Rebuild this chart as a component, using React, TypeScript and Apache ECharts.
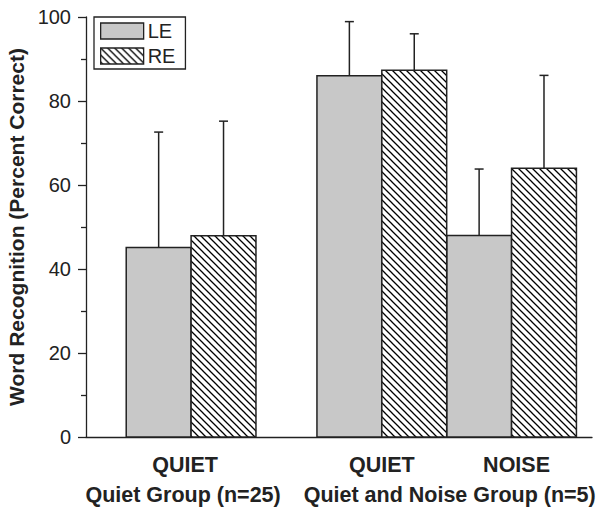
import React, { useEffect, useRef } from "react";
import * as echarts from "echarts";

// ---- data ----
const categories = ["QUIET", "QUIET", "NOISE"];
const groupNames = ["Quiet Group (n=25)", "Quiet and Noise Group (n=5)"];
const groupOfCategory = [0, 1, 1];
const leMeans = [45.1, 86.0, 48.0];
const leErr = [27.5, 12.9, 15.8];
const reMeans = [47.9, 87.3, 64.0];
const reErr = [27.3, 8.7, 22.1];
const yTicks = [0, 20, 40, 60, 80, 100];

// ---- layout (positions of category centres on the x scale, in bar widths) ----
const catX = [1.62, 4.56, 6.56];
const X_MAX = 7.8;
const catLabelDx = [-6, 0, 5];
const groupLabelDx = [-8, 3];

const FONT = "'Liberation Sans', Arial, Helvetica, sans-serif";
const INK = "#222";
const GRAY = "#c8c8c8";

function makeHatch(): HTMLCanvasElement {
  const s = 7;
  const c = document.createElement("canvas");
  c.width = s;
  c.height = s;
  const g = c.getContext("2d")!;
  g.fillStyle = "#fff";
  g.fillRect(0, 0, s, s);
  g.strokeStyle = "#000";
  g.lineWidth = 1.3;
  g.beginPath();
  g.moveTo(-1, -1);
  g.lineTo(s + 1, s + 1);
  g.moveTo(-1, s - 1);
  g.lineTo(1, s + 1);
  g.moveTo(s - 1, -1);
  g.lineTo(s + 1, 1);
  g.stroke();
  return c;
}

export default function App() {
  const ref = useRef<HTMLDivElement>(null);

  useEffect(() => {
    if (!ref.current) return;
    const chart = echarts.init(ref.current, undefined, { renderer: "svg" });
    const hatch = { image: makeHatch(), repeat: "repeat", imageWidth: 7, imageHeight: 7 } as any;

    const barSeries = (name: string, means: number[], fill: any, o0: number, o1: number) => ({
      name,
      type: "custom",
      itemStyle: { color: fill, borderColor: INK, borderWidth: 1.5 },
      encode: { x: 0, y: 1 },
      data: means.map((v, i) => [catX[i], v]),
      renderItem: (_p: any, api: any) => {
        const x = api.value(0);
        const v = api.value(1);
        const a = api.coord([x + o0, v]);
        const b = api.coord([x + o1, 0]);
        return {
          type: "rect",
          shape: { x: a[0], y: a[1], width: b[0] - a[0], height: b[1] - a[1] },
          style: { fill, stroke: INK, lineWidth: 1.5 },
        };
      },
      z: 2,
    });

    const errSeries = (name: string, means: number[], errs: number[], off: number) => ({
      name: name + " error",
      type: "custom",
      encode: { x: 0, y: 1 },
      data: means.map((v, i) => [catX[i] + off, v, v + errs[i]]),
      renderItem: (_p: any, api: any) => {
        const x = api.value(0);
        const a = api.coord([x, api.value(1)]);
        const b = api.coord([x, api.value(2)]);
        return {
          type: "group",
          children: [
            { type: "line", shape: { x1: a[0], y1: a[1], x2: b[0], y2: b[1] }, style: { stroke: INK, lineWidth: 1.5 } },
            { type: "line", shape: { x1: b[0] - 4.5, y1: b[1], x2: b[0] + 4.5, y2: b[1] }, style: { stroke: INK, lineWidth: 1.5 } },
          ],
        };
      },
      z: 3,
    });

    chart.setOption({
      animation: false,
      grid: { left: 86, top: 17, right: 14, bottom: 72, containLabel: false, outerBoundsMode: "none" },
      xAxis: {
        type: "value",
        min: 0,
        max: X_MAX,
        axisLine: { show: true, lineStyle: { color: INK, width: 1.3 } },
        axisTick: { show: false },
        axisLabel: { show: false },
        splitLine: { show: false },
      },
      yAxis: {
        type: "value",
        min: yTicks[0],
        max: yTicks[yTicks.length - 1],
        interval: 20,
        name: "Word Recognition (Percent Correct)",
        nameLocation: "middle",
        nameGap: 52,
        nameTextStyle: { fontFamily: FONT, fontSize: 21, fontWeight: "bold", color: INK },
        axisLine: { show: true, lineStyle: { color: INK, width: 1.3 } },
        axisTick: { show: true, inside: false, length: 8, lineStyle: { color: INK, width: 1.3 } },
        minorTick: { show: true, splitNumber: 2, length: 5, lineStyle: { color: INK, width: 1.3 } },
        axisLabel: { margin: 15, fontFamily: FONT, fontSize: 20, color: INK },
        splitLine: { show: false },
      },
      legend: {
        left: 94,
        top: 17,
        orient: "vertical",
        icon: "rect",
        itemWidth: 43,
        itemHeight: 16,
        itemGap: 5,
        padding: [4, 10, 3, 6],
        borderColor: INK,
        borderWidth: 1.3,
        textStyle: { fontFamily: FONT, fontSize: 20, color: INK, padding: [0, 0, 0, -1] },
        data: [
          { name: "LE", itemStyle: { color: GRAY, borderColor: INK, borderWidth: 1.3 } },
          { name: "RE", itemStyle: { color: hatch, borderColor: INK, borderWidth: 1.3 } },
        ],
      },
      series: [
        barSeries("LE", leMeans, GRAY, -1, 0),
        barSeries("RE", reMeans, hatch, 0, 1),
        errSeries("LE", leMeans, leErr, -0.5),
        errSeries("RE", reMeans, reErr, 0.5),
      ],
    });

    // category and group labels, placed through the x scale
    const px = (v: number) => chart.convertToPixel({ xAxisIndex: 0 }, v) as number;
    const labelY = 465;
    const groupY = 495;
    const graphics: any[] = [];
    categories.forEach((c, i) => {
      graphics.push({
        type: "text",
        x: px(catX[i]) + catLabelDx[i],
        y: labelY,
        style: { text: c, fontFamily: FONT, fontSize: 21.5, fontWeight: "bold", fill: INK, align: "center", verticalAlign: "middle" },
      });
    });
    groupNames.forEach((g, gi) => {
      const xs = catX.filter((_, i) => groupOfCategory[i] === gi);
      const cx = (Math.min(...xs) + Math.max(...xs)) / 2;
      graphics.push({
        type: "text",
        x: px(cx) + groupLabelDx[gi],
        y: groupY,
        style: { text: g, fontFamily: FONT, fontSize: 21.5, fontWeight: "bold", fill: INK, align: "center", verticalAlign: "middle" },
      });
    });
    chart.setOption({ graphic: graphics });

    return () => chart.dispose();
  }, []);

  return <div ref={ref} style={{ position: "absolute", left: 0, top: 0, width: 606, height: 509 }} />;
}
